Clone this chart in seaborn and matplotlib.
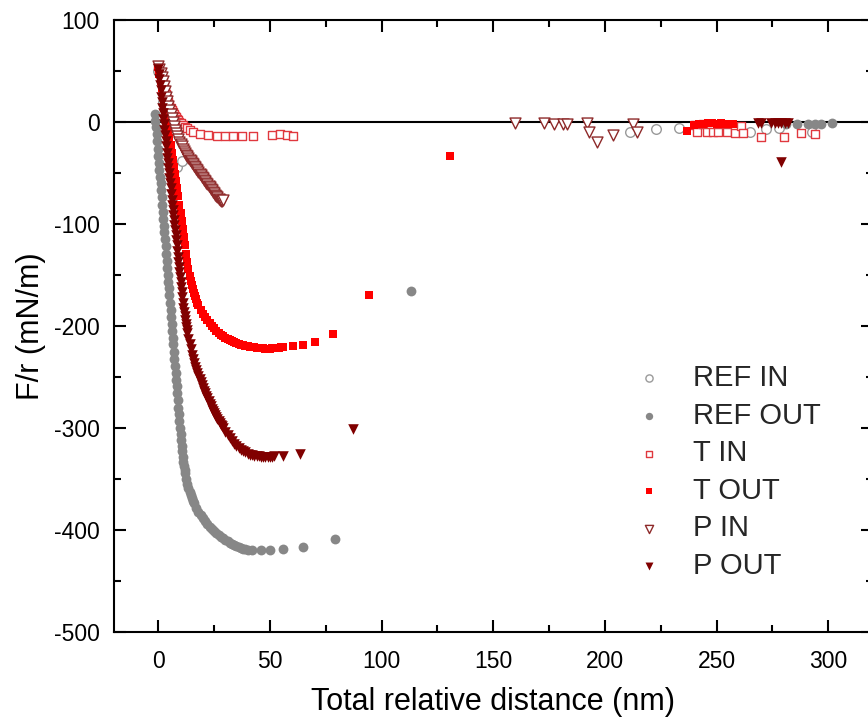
import numpy as np
import pandas as pd
import matplotlib
matplotlib.use("Agg")
import matplotlib.pyplot as plt
import seaborn as sns
from matplotlib.ticker import MultipleLocator

# ---------------- data ----------------
ref_in_x = [0, 2, 4, 8.2, 10.5, 211, 223, 233, 265, 272, 278, 292.6]
ref_in_y = [50, 20, -5, -44, -38, -10, -7, -6, -10, -7, -6, -9.5]

ref_out_x = [-1.5, -1.25, -1, -0.75, -0.5, -0.25, 0, 0.25, 0.5, 0.75, 1, 1.25, 1.5, 1.75, 2, 2.25, 2.5, 2.75,
             3, 3.25, 3.5, 3.75, 4, 4.25, 4.5, 4.75, 5, 5.25, 5.5, 5.75, 6, 6.25, 6.5, 6.75, 7, 7.25, 7.5, 7.75,
             8, 8.25, 8.5, 8.75, 9, 9.25, 9.5, 9.75, 10, 10.25, 10.5, 10.75, 11, 11.25, 11.5, 11.75, 12, 12.5,
             13, 13.5, 14, 14.5, 15, 15.5, 16, 17, 18, 19, 20, 21, 22,
             23, 24, 25, 26, 27, 28, 29, 30, 31, 32, 33, 34, 35, 36, 37, 38, 39, 40,
             42, 46, 50, 56, 65, 79, 113, 281, 286, 291, 294, 296.5, 301.5]
ref_out_y = [8, 1, -5, -12, -19, -26, -33, -40, -47, -54, -60, -67, -74, -81, -88, -95, -102, -108,
             -115, -122, -129, -136, -143, -150, -157, -163, -170, -177, -184, -191, -198, -205, -212, -218, -225, -232, -239, -246,
             -253, -259, -266, -273, -280, -286, -293, -300, -306, -312, -318, -323, -328, -333, -337, -341, -344, -350,
             -355, -359, -363, -366, -369, -372, -374, -378, -382, -385, -388, -391, -394,
             -397, -399, -401, -403, -405, -407, -408, -410, -411, -413, -414, -415, -416, -417, -418, -419, -419, -420,
             -420, -420, -420, -419, -417, -409, -166, -1.5, -1.5, -1.5, -1.5, -1.5, -1]

t_in_x = [0, 0.5, 1, 1.5, 2, 2.5, 3, 3.5, 4, 4.5, 5, 5.5, 6, 6.5, 7, 7.5, 8, 8.5, 9, 9.5, 10, 11, 12, 13,
          14, 15.7, 18.7, 22.4, 26.1, 29.9, 33.6, 37.3, 42.5, 50.8, 54.5, 57.5, 60.2,
          240.4, 241, 244, 245.6, 248.5, 250.8, 254.5, 258.3, 261, 262, 270, 280.2, 287.7, 294]
t_in_y = [55, 52, 48, 44, 40, 36, 31, 27, 23, 20, 17, 14, 12, 10, 8, 6, 4.5, 3, 1.5, 0, -1, -3, -4.5, -6,
          -7.5, -9.5, -11.5, -13, -13.5, -14, -14, -14, -14, -12.5, -12, -12.5, -13.5,
          -3, -10, -2, -10, -10, -10, -10, -11, -4, -11, -15, -14.5, -10.5, -12]

t_out_x = [0, 0.5, 1, 1.5, 2, 2.5, 3, 3.5, 4, 4.5, 5, 5.5, 6, 6.5, 7, 7.5, 8, 8.5, 9, 9.5, 10, 10.5,
           11, 11.5, 12, 12.5, 13, 13.5, 14, 14.5, 15, 15.5, 16, 16.5, 17, 17.5, 18, 19, 20, 21, 22, 23,
           24, 25, 26, 27, 28, 29, 30, 31, 32, 33, 34, 35, 36, 37, 38, 39, 40, 41, 42, 43, 44, 45, 46,
           47, 48, 49, 50, 51, 52, 53, 54, 55, 56,
           60.5, 64.7, 70.2, 78.4, 94.5, 130.6, 236.6, 240, 242, 244, 246, 248, 250, 252, 253, 255, 257.5]
t_out_y = [54, 47, 40, 33, 26, 19, 12, 5, -2, -9, -16, -23, -30, -37, -44, -51, -58, -65, -73, -81, -89, -97,
           -105, -113, -121, -129, -137, -144, -151, -156, -160, -164, -168, -171, -174, -177, -179, -184, -188, -191, -194, -197,
           -200, -202, -204.5, -206.5, -208.5, -210, -211.5, -213, -214, -215, -216, -217, -218, -218.5, -219, -219.5, -220, -220.5, -221, -221, -221.5, -221.5, -222,
           -222, -222.5, -222.5, -222.5, -222, -222, -221.5, -221.5, -221, -221,
           -220, -219, -215.5, -208, -170, -33, -9, -3, -2, -2, -1, -1, -2, -1, -1.5, -1.5, -2]

p_in_x = [0, 0.5, 1, 1.5, 2, 2.5, 3, 3.5, 4, 4.5, 5, 5.5, 6, 6.5, 7, 7.5, 8, 8.5, 9, 9.5, 10, 10.5,
          11, 11.5, 12, 12.5, 13, 13.5, 14, 14.5, 15, 15.5, 16, 16.5, 17, 17.5, 18, 18.5, 19, 19.5, 20,
          20.5, 21, 21.5, 22, 22.5, 23, 23.5, 24, 24.5, 25, 25.5, 26, 26.5, 27, 27.5, 28, 28.5, 29,
          159.7, 172.7, 177.2, 181, 183, 191.8, 193, 196.3, 203.4, 212.7, 214.2]
p_in_y = [55, 52, 48, 44, 40, 35, 30, 25, 21, 16, 12, 8, 4, 0, -4, -8, -11, -14, -17, -20, -22, -24,
          -26, -28, -30, -32, -33.5, -35, -37, -38.5, -40, -41.5, -43, -44.5, -46, -47.5, -49, -50.5, -52, -53.5, -55,
          -56.5, -58, -59.5, -61, -62.5, -64, -65.5, -67, -68.5, -70, -71.5, -73, -74, -75, -76, -77, -77, -76,
          -1, -1, -1.5, -1.5, -2, -1, -10, -20, -12.5, -2, -9.5]

p_out_x = [0, 0.25, 0.5, 0.75, 1, 1.25, 1.5, 1.75, 2, 2.25, 2.5, 2.75, 3, 3.25, 3.5, 3.75, 4, 4.25, 4.5, 4.75,
           5, 5.25, 5.5, 5.75, 6, 6.25, 6.5, 6.75, 7, 7.25, 7.5, 7.75, 8, 8.25, 8.5, 8.75, 9, 9.25, 9.5, 9.75,
           10, 10.25, 10.5, 10.75, 11, 11.25, 11.5, 11.75, 12, 12.25, 12.5, 12.75, 13, 13.5, 14, 14.5, 15, 15.5,
           16, 16.5, 17, 17.5, 18, 18.5, 19, 19.5, 20, 20.5, 21, 21.5, 22, 22.5, 23, 23.5, 24, 24.5, 25, 25.5,
           26, 26.5, 27, 27.5, 28, 28.5, 29, 30, 31, 32, 33, 34, 35, 36, 37, 38, 39, 40, 41, 42, 43, 44, 45, 46,
           47, 48, 49, 50, 51, 52,
           56, 63.5, 87.4, 268.5, 270, 274.5, 276, 277.5, 279, 280.5, 282, 279]
p_out_y = [52, 47, 42, 36, 31, 25, 20, 14, 9, 3, -2, -8, -13, -19, -24, -30, -35, -40, -45, -50,
           -55, -60, -65, -71, -76, -81, -86, -91, -96, -101, -106, -111, -116, -121, -126, -132, -137, -142, -147, -152,
           -157, -162, -167, -172, -177, -182, -186, -190, -194, -198, -201, -204, -207, -213, -218, -223, -228, -232,
           -236, -240, -243, -246, -249, -252, -255, -258, -261, -263.5, -266, -268.5, -271, -273.5, -276, -278.5, -281, -283, -285, -287,
           -289, -291, -293, -295, -297, -298.5, -300, -304, -307, -310, -313, -315.5, -318, -320, -321.5, -323, -324, -325, -326, -326.5, -327, -327.5, -327.5, -328,
           -328, -328, -328, -328, -328, -327.5,
           -327.5, -325, -301, -1, -1, -1, -1, -1, -1, -1, -1, -39]

labels = ["REF IN", "REF OUT", "T IN", "T OUT", "P IN", "P OUT"]
x_ticks = [0, 50, 100, 150, 200, 250, 300]
y_ticks = [-500, -400, -300, -200, -100, 0, 100]

# ---------------- style ----------------
sns.set_theme(style="ticks")
plt.rcParams["font.family"] = ["Liberation Sans", "DejaVu Sans"]
plt.rcParams["axes.unicode_minus"] = False

fig = plt.figure(figsize=(8.68, 7.22), dpi=100)
ax = fig.add_axes([113.6 / 868, 1 - 632 / 722, (873 - 113.6) / 868, (632 - 20) / 722])

ax.axhline(0, color="black", lw=1.5, zorder=1)

series = [
    (ref_in_x, ref_in_y, labels[0], "o", "white", "#9a9a9a", 48, 1.0),
    (ref_out_x, ref_out_y, labels[1], "o", "#878787", "#878787", 50, 0.0),
    (t_in_x, t_in_y, labels[2], "s", "white", "#e0383e", 40, 1.0),
    (t_out_x, t_out_y, labels[3], "s", "#ff0000", "#ff0000", 34, 0.0),
    (p_in_x, p_in_y, labels[4], "v", "white", "#8e2a2a", 62, 1.0),
    (p_out_x, p_out_y, labels[5], "v", "#800000", "#800000", 58, 0.0),
]

for xs, ys, lab, mk, fc, ec, s, lw in series:
    df = pd.DataFrame({"x": xs, "y": ys})
    sns.scatterplot(data=df, x="x", y="y", ax=ax, marker=mk, s=s, color=ec,
                    facecolor=fc, edgecolor=ec, linewidth=lw, label=lab, zorder=3)

ax.set_xlim(-20, 320)
ax.set_ylim(-500, 100)
ax.set_xticks(x_ticks)
ax.set_yticks(y_ticks)
ax.xaxis.set_minor_locator(MultipleLocator(25))
ax.yaxis.set_minor_locator(MultipleLocator(50))
ax.tick_params(which="both", direction="in", top=True, right=True, width=1.5,
               color="black", labelsize=16.5, labelcolor="black")
ax.tick_params(which="major", length=8.5)
ax.tick_params(which="minor", length=4.8)
ax.tick_params(axis="x", which="major", pad=13)
ax.tick_params(axis="y", which="major", pad=10)
for sp in ax.spines.values():
    sp.set_linewidth(1.5)
    sp.set_color("black")

ax.set_xlabel("Total relative distance (nm)", fontsize=22, color="black", labelpad=10)
ax.set_ylabel("F/r (mN/m)", fontsize=22, color="black", labelpad=6)

ax.legend(loc="upper left", bbox_to_anchor=(634.5 / 868, 1 - 364 / 722),
          bbox_transform=fig.transFigure, frameon=False, fontsize=21,
          markerscale=0.75, handlelength=1.0, handletextpad=1.0,
          labelspacing=0.33, borderpad=0, borderaxespad=0)

fig.savefig("out.png", dpi=100)
